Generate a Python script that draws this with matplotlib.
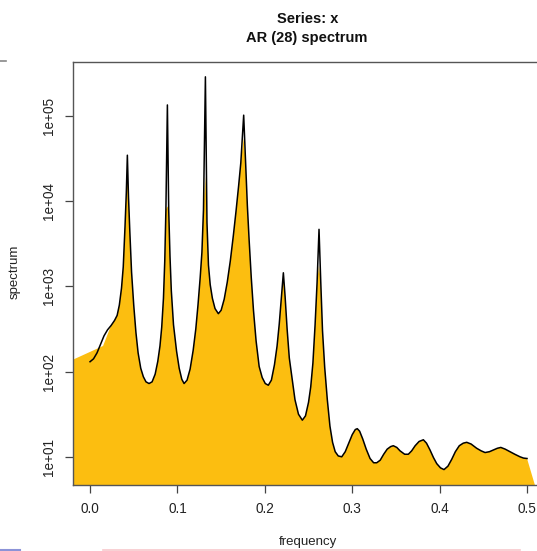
import matplotlib
matplotlib.use("Agg")
import matplotlib.pyplot as plt
from matplotlib.ticker import FixedLocator, FixedFormatter, NullLocator
from matplotlib.lines import Line2D

# ---- data (frequency, log10 of spectrum) ----
freq = [0.0, 0.004, 0.008, 0.012, 0.016, 0.020, 0.024, 0.028, 0.031, 0.0335,
        0.036, 0.038, 0.040, 0.0415, 0.0427, 0.044, 0.0455, 0.0475, 0.050, 0.0525,
        0.055, 0.058, 0.061, 0.064, 0.0675, 0.071, 0.0745, 0.0775, 0.080, 0.082,
        0.084, 0.0855, 0.0868, 0.0885, 0.090, 0.0915, 0.093, 0.0955, 0.099, 0.102,
        0.105, 0.1076, 0.111, 0.1145, 0.118, 0.121, 0.1235, 0.126, 0.128, 0.1298,
        0.1320, 0.1338, 0.1355, 0.1375, 0.140, 0.143, 0.1468, 0.150, 0.1535, 0.157,
        0.1605, 0.164, 0.167, 0.1700, 0.1725, 0.1758, 0.1780, 0.1800, 0.182, 0.1845,
        0.187, 0.190, 0.1935, 0.197, 0.2005, 0.204, 0.2075, 0.211, 0.214, 0.2165,
        0.219, 0.2212, 0.2232, 0.2255, 0.228, 0.231, 0.2345, 0.2385, 0.2429, 0.2465,
        0.2500, 0.2525, 0.2550, 0.2575, 0.2598, 0.2620, 0.2640, 0.2660, 0.2685, 0.2715,
        0.2745, 0.2775, 0.2805, 0.2840, 0.2880, 0.2920, 0.2960, 0.3000, 0.3035, 0.3058,
        0.3085, 0.3120, 0.3160, 0.3204, 0.3245, 0.3280, 0.3320, 0.3360, 0.3400, 0.3440,
        0.3470, 0.3510, 0.3547, 0.3600, 0.3642, 0.3680, 0.3720, 0.3765, 0.3814, 0.3850,
        0.3890, 0.3930, 0.3967, 0.4010, 0.4050, 0.4095, 0.4138, 0.4180, 0.4225, 0.4270,
        0.4310, 0.4360, 0.4424, 0.4475, 0.4520, 0.4570, 0.4614, 0.4660, 0.4700, 0.4750,
        0.4805, 0.4860, 0.4920, 0.4960, 0.5000]
log10_spectrum = [2.116, 2.15, 2.22, 2.32, 2.42, 2.49, 2.54, 2.60, 2.66, 2.78,
                  2.98, 3.23, 3.70, 4.10, 4.54, 4.05, 3.65, 3.17, 2.78, 2.46,
                  2.22, 2.04, 1.94, 1.88, 1.86, 1.88, 1.97, 2.12, 2.30, 2.52,
                  2.86, 3.30, 3.90, 5.13, 3.90, 3.35, 2.95, 2.55, 2.24, 2.04,
                  1.91, 1.86, 1.90, 2.03, 2.25, 2.50, 2.78, 3.10, 3.40, 3.90,
                  5.46, 3.75, 3.25, 3.02, 2.86, 2.74, 2.68, 2.72, 2.85, 3.05,
                  3.30, 3.60, 3.88, 4.18, 4.45, 5.01, 4.45, 3.95, 3.55, 3.10,
                  2.72, 2.36, 2.06, 1.93, 1.86, 1.84, 1.90, 2.08, 2.30, 2.56,
                  2.88, 3.16, 2.88, 2.50, 2.16, 1.93, 1.67, 1.50, 1.43, 1.48,
                  1.64, 1.82, 2.10, 2.55, 3.05, 3.67, 3.05, 2.48, 2.05, 1.67,
                  1.36, 1.17, 1.06, 1.01, 1.00, 1.06, 1.16, 1.26, 1.32, 1.33,
                  1.30, 1.21, 1.09, 0.98, 0.93, 0.93, 0.96, 1.03, 1.09, 1.12,
                  1.13, 1.11, 1.07, 1.03, 1.03, 1.07, 1.13, 1.18, 1.20, 1.16,
                  1.08, 0.99, 0.92, 0.87, 0.85, 0.89, 0.97, 1.06, 1.13, 1.16,
                  1.17, 1.15, 1.10, 1.07, 1.05, 1.06, 1.08, 1.10, 1.11, 1.09,
                  1.06, 1.03, 1.00, 0.985, 0.98]
spectrum = [10 ** v for v in log10_spectrum]

# the shaded area is drawn coarser: its peaks stop lower than the line
peak_freqs = [0.0427, 0.0885, 0.1320, 0.1758, 0.2212, 0.2620]
fill_tips = [22400, 8700, 19500, 55000, 1350, 1780]
fill_left_freq = [-0.0195, 0.0149]
fill_left_vals = [138, 200]
fill_right_freq = 0.509

x_ticks = [0.0, 0.1, 0.2, 0.3, 0.4, 0.5]
x_ticklabels = ["0.0", "0.1", "0.2", "0.3", "0.4", "0.5"]
y_ticks = [1e1, 1e2, 1e3, 1e4, 1e5]
y_ticklabels = ["1e+01", "1e+02", "1e+03", "1e+04", "1e+05"]

# ---- figure ----
W, H = 537, 551
fig = plt.figure(figsize=(W / 100, H / 100), dpi=100)
plt.rcParams['font.family'] = ['Liberation Sans', 'DejaVu Sans']

ax_l, ax_r, ax_t, ax_b = 73, 544.5, 62, 485
ax = fig.add_axes([ax_l / W, 1 - ax_b / H, (ax_r - ax_l) / W, (ax_b - ax_t) / H])
ax.set_yscale('log')
xmin, xmax = -0.0195, 0.52
ymin, ymax = 10 ** 0.669, 10 ** 5.634
ax.set_xlim(xmin, xmax)
ax.set_ylim(ymin, ymax)

fill_curve = []
for f, v in zip(freq, spectrum):
    if f in peak_freqs:
        v = fill_tips[peak_freqs.index(f)]
    fill_curve.append((f, v))
start = [i for i, (f, v) in enumerate(fill_curve) if f >= 0.022][0]
poly_x = [xmin] + fill_left_freq + [p[0] for p in fill_curve[start:]] + [fill_right_freq, xmin]
poly_y = [ymin] + fill_left_vals + [p[1] for p in fill_curve[start:]] + [ymin, ymin]
ax.fill(poly_x, poly_y, color='#FCBE10', lw=0, zorder=1)

ax.plot(freq, spectrum, color='black', lw=1.1, zorder=2, solid_joinstyle='round')

for s in ax.spines.values():
    s.set_color('#555555')
    s.set_linewidth(1.0)

ax.xaxis.set_major_locator(FixedLocator(x_ticks))
ax.xaxis.set_major_formatter(FixedFormatter(x_ticklabels))
ax.yaxis.set_major_locator(FixedLocator(y_ticks))
ax.yaxis.set_major_formatter(FixedFormatter(y_ticklabels))
ax.yaxis.set_minor_locator(NullLocator())
ax.tick_params(axis='both', length=6, width=0.9, color='#444444',
               labelsize=9.8, labelcolor='#222222', pad=6)
for lab in ax.get_yticklabels():
    lab.set_rotation(90)
    lab.set_va('center')

fig.text(308 / W, 1 - 19 / H, "Series: x", ha='center', va='center',
         fontsize=10.5, fontweight='bold', color='#111111')
fig.text(307 / W, 1 - 38 / H, "AR (28) spectrum", ha='center', va='center',
         fontsize=10.5, fontweight='bold', color='#111111')
fig.text(308 / W, 1 - 542 / H, "frequency", ha='center', va='center',
         fontsize=9.5, color='#222222')
fig.text(15 / W, 1 - 272 / H, "spectrum", ha='center', va='center',
         rotation=90, fontsize=9.5, color='#222222')

# crop remnants at the edges of the picture
fig.add_artist(Line2D([103 / W, 520 / W], [1 - 549.5 / H] * 2, color='#F7C8CC', lw=1.2))
fig.add_artist(Line2D([0, 20 / W], [1 - 549.5 / H] * 2, color='#8C93D8', lw=1.5))
fig.add_artist(Line2D([0, 6 / W], [1 - 61 / H] * 2, color='#888888', lw=1.2))

fig.savefig("out.png", dpi=100)
